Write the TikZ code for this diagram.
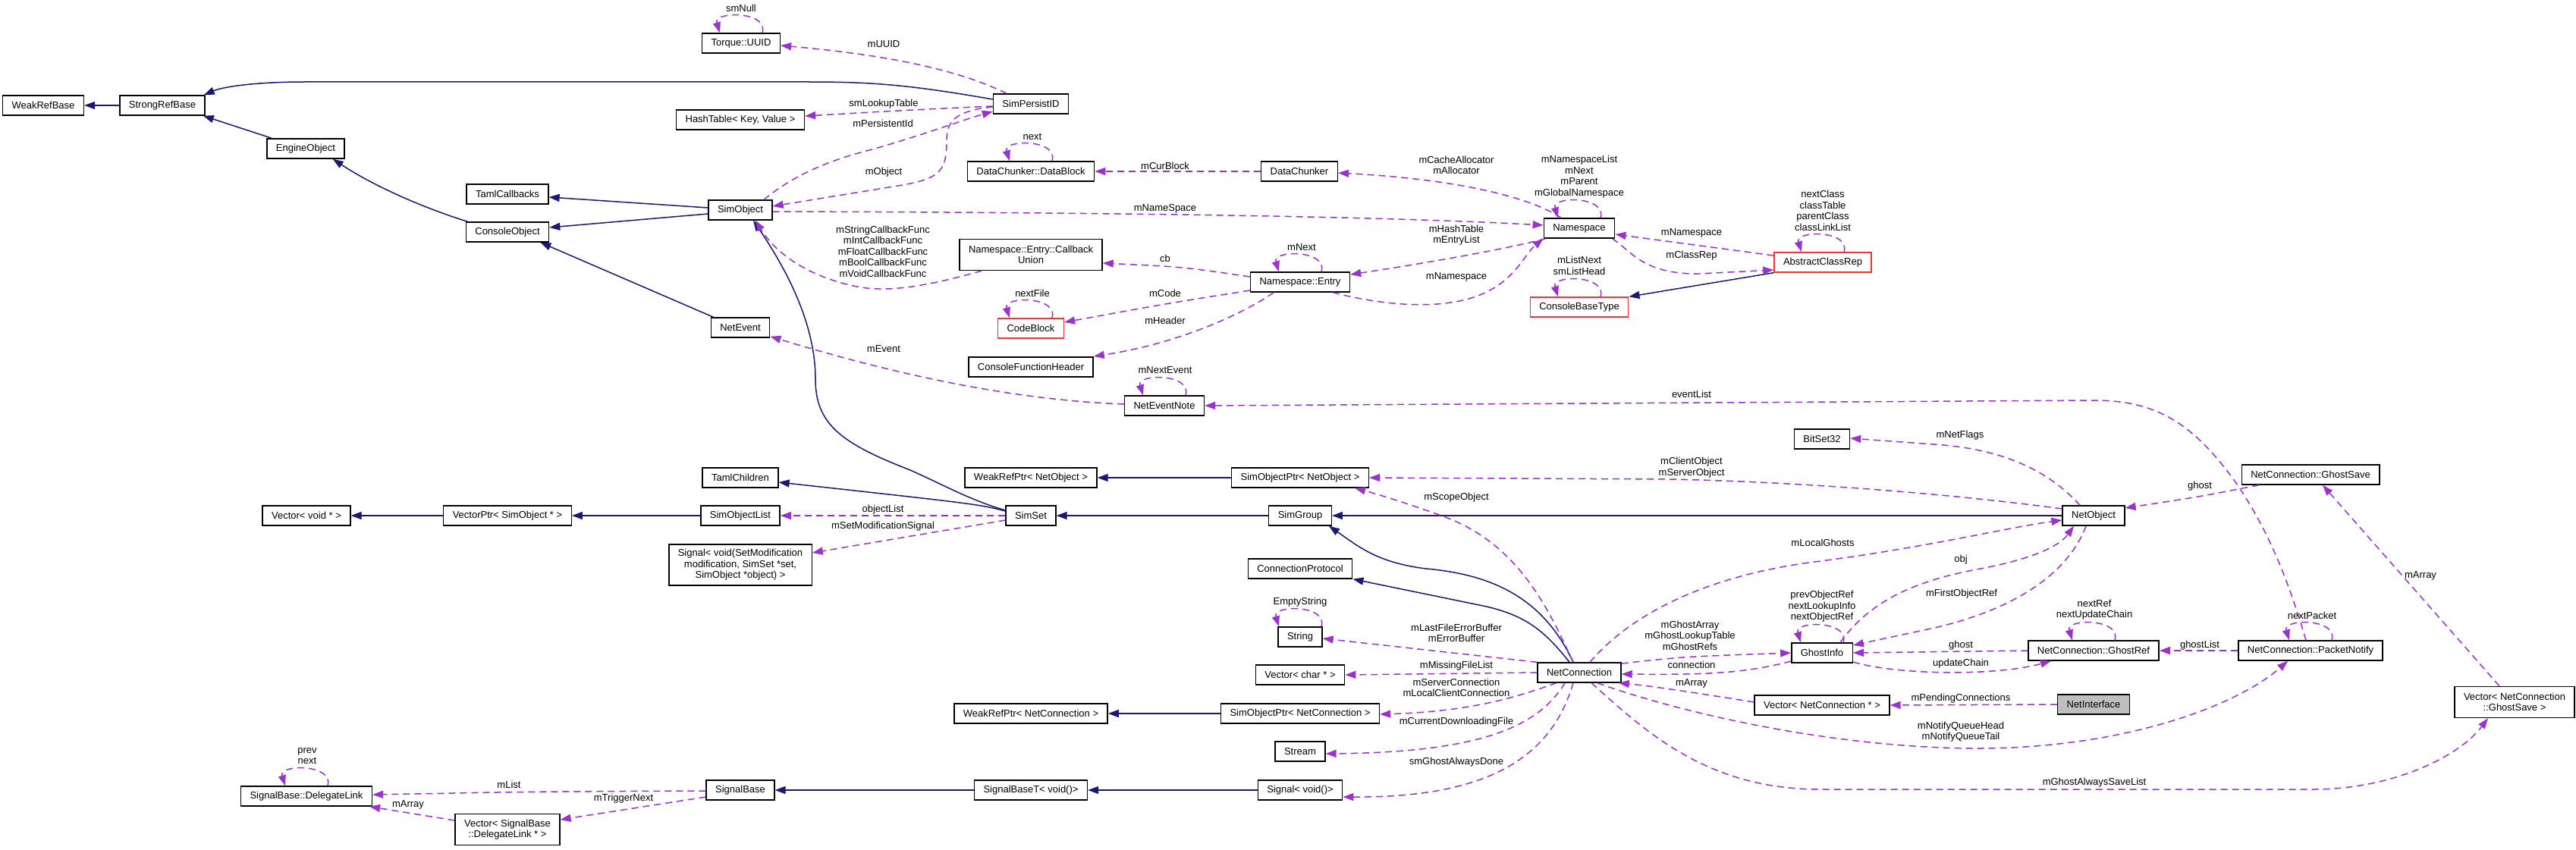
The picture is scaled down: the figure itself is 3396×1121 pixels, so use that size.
\documentclass[tikz,border=0pt]{standalone}
\usepackage{fontspec}
\setmainfont{Liberation Sans}
\usetikzlibrary{arrows.meta}
\definecolor{inhc}{HTML}{191970}
\definecolor{usec}{HTML}{9A32CD}
\definecolor{redb}{HTML}{FF3030}
\definecolor{grayf}{HTML}{BFBFBF}
\newcommand\selfloopx[1]{\draw[usedge] ([xshift=28pt]#1.north) .. controls +(9pt,29pt) and +(-9pt,29pt) .. ([xshift=-28pt]#1.north);}
\begin{document}
\begin{tikzpicture}[x=1pt,y=-1pt,
 every node/.style={font=\fontsize{13pt}{14.5pt}\selectfont},
 cbox/.style={draw=black, line width=1.4pt, fill=white, inner xsep=12pt, inner ysep=2pt, minimum height=26pt, align=center},
 redbox/.style={cbox, draw=redb},
 graybox/.style={cbox, fill=grayf},
 two/.style={minimum height=41pt},
 three/.style={minimum height=54pt},
 inh/.style={draw=inhc, line width=1.5pt, -{Triangle[length=14pt,width=10pt]}},
 usedge/.style={draw=usec, line width=1.5pt, dash pattern=on 9pt off 6pt, -{Triangle[length=14pt,width=10pt]}},
 lbl/.style={align=center, inner sep=0pt}]
\fill[white] (0,0) rectangle (3396,1121);
\useasboundingbox (0,0) rectangle (3396,1121);

% nodes
\node[cbox] (weak) at (57,139) {WeakRefBase};
\node[cbox] (strong) at (214,139) {StrongRefBase};
\node[cbox] (engine) at (403,196) {EngineObject};
\node[cbox] (tamlcb) at (669,256) {TamlCallbacks};
\node[cbox] (cobj) at (669,306) {ConsoleObject};
\node[cbox] (uuid) at (977,57) {Torque::UUID};
\node[cbox] (pid) at (1359,137) {SimPersistID};
\node[cbox] (hasht) at (976,158) {HashTable< Key, Value >};
\node[cbox] (dblock) at (1359,226) {DataChunker::DataBlock};
\node[cbox] (dchunk) at (1713,226) {DataChunker};
\node[cbox] (simobj) at (976,277) {SimObject};
\node[cbox] (ns) at (2082,301) {Namespace};
\node[redbox] (acr) at (2403,346) {AbstractClassRep};
\node[cbox,two] (cbu) at (1359,336) {Namespace::Entry::Callback\\Union};
\node[cbox] (entry) at (1714,372) {Namespace::Entry};
\node[redbox] (cbt) at (2082,405) {ConsoleBaseType};
\node[redbox] (codeb) at (1359,433) {CodeBlock};
\node[cbox] (netev) at (976,432) {NetEvent};
\node[cbox] (cfh) at (1359,484) {ConsoleFunctionHeader};
\node[cbox] (nen) at (1535,535) {NetEventNote};
\node[cbox] (bitset) at (2402,579) {BitSet32};
\node[cbox] (gsave) at (3046,626) {NetConnection::GhostSave};
\node[cbox] (tamlch) at (976,630) {TamlChildren};
\node[cbox] (wrpno) at (1359,630) {WeakRefPtr< NetObject >};
\node[cbox] (sopno) at (1714,630) {SimObjectPtr< NetObject >};
\node[cbox] (vvoid) at (404,680) {Vector< void * >};
\node[cbox] (vptr) at (669,680) {VectorPtr< SimObject * >};
\node[cbox] (sol) at (976,680) {SimObjectList};
\node[cbox] (simset) at (1359,680) {SimSet};
\node[cbox] (simgroup) at (1714,680) {SimGroup};
\node[cbox] (netobj) at (2760,680) {NetObject};
\node[cbox,three] (sigss) at (976,745) {Signal< void(SetModification\\modification, SimSet *set,\\SimObject *object) >};
\node[cbox] (cproto) at (1714,750) {ConnectionProtocol};
\node[cbox] (string) at (1714,840) {String};
\node[cbox] (ginfo) at (2402,861) {GhostInfo};
\node[cbox] (gref) at (2760,858) {NetConnection::GhostRef};
\node[cbox] (pnotify) at (3046,858) {NetConnection::PacketNotify};
\node[cbox] (netconn) at (2082,887) {NetConnection};
\node[cbox] (vchar) at (1714,890) {Vector< char * >};
\node[cbox] (vnc) at (2402,930) {Vector< NetConnection * >};
\node[graybox] (niface) at (2760,929) {NetInterface};
\node[cbox,two] (vgs) at (3315,926) {Vector< NetConnection\\::GhostSave >};
\node[cbox] (wrpnc) at (1359,941) {WeakRefPtr< NetConnection >};
\node[cbox] (sopnc) at (1714,941) {SimObjectPtr< NetConnection >};
\node[cbox] (stream) at (1714,991) {Stream};
\node[cbox] (dlink) at (404,1050) {SignalBase::DelegateLink};
\node[cbox] (sigbase) at (976,1042) {SignalBase};
\node[cbox] (sbt) at (1359,1042) {SignalBaseT< void()>};
\node[cbox] (sigv) at (1714,1042) {Signal< void()>};
\node[cbox,two] (vdl) at (669,1094) {Vector< SignalBase\\::DelegateLink * >};

% inheritance
\draw[inh] (strong.west) -- (weak.east);
\draw[inh] ([xshift=7pt]engine.north west) -- ([xshift=-3pt]strong.south east);
\draw[inh] ([yshift=6pt]pid.west) .. controls (1200,112) and (1150,108) .. (1067,108) -- (401,108) .. controls (340,108) and (295,114) .. ([xshift=-2pt]strong.north east);
\draw[inh] ([xshift=3pt]cobj.north west) .. controls (570,278) and (500,250) .. ([xshift=-16pt]engine.south east);
\draw[inh] ([yshift=3pt]simobj.west) -- ([yshift=-4pt]tamlcb.east);
\draw[inh] ([yshift=-5pt]simobj.west) -- ([yshift=6pt]cobj.east);
\draw[inh] ([xshift=4pt]netev.north west) -- ([xshift=-12pt]cobj.south east);
\draw[inh] ([yshift=7pt]simset.west) .. controls (1280,660) and (1245,640) .. (1200,620) .. controls (1110,585) and (1075,560) .. (1075,500) .. controls (1075,430) and (1040,360) .. ([xshift=17pt]simobj.south);
\draw[inh] ([yshift=6pt]simset.west) .. controls (1290,665) .. ([yshift=-6pt]tamlch.east);
\draw[inh] (sol.west) -- (vptr.east);
\draw[inh] (vptr.west) -- (vvoid.east);
\draw[inh] (simgroup.west) -- (simset.east);
\draw[inh] (netobj.west) -- (simgroup.east);
\draw[inh] ([xshift=-8pt]netconn.north) .. controls (2035,790) and (1970,758) .. (1880,750) .. controls (1815,742) and (1790,720) .. ([xshift=-4pt]simgroup.south east);
\draw[inh] ([xshift=-13pt]netconn.north) .. controls (2035,830) and (2010,812) .. (1960,800) -- (cproto.south east);
\draw[inh] (sopno.west) -- (wrpno.east);
\draw[inh] (sopnc.west) -- (wrpnc.east);
\draw[inh] (sbt.west) -- (sigbase.east);
\draw[inh] (sigv.west) -- (sbt.east);
\draw[inh] (acr.south west) -- (cbt.north east);

% usage
\draw[usedge] ([xshift=-32pt]pid.north) .. controls (1280,100) and (1200,75) .. ([yshift=-3pt]uuid.east);
\draw[usedge] ([yshift=-3pt]pid.west) .. controls (1200,145) .. ([yshift=5pt]hasht.east);
\draw[usedge] ([xshift=31pt]simobj.north) .. controls (1045,232) and (1090,212) .. (1150,197) .. controls (1220,177) and (1270,158) .. ([yshift=-10pt]pid.west);
\draw[usedge] ([yshift=-4pt]pid.west) .. controls (1262,146) and (1248,158) .. (1248,185) .. controls (1248,225) and (1240,235) .. (1190,244) -- ([yshift=5pt]simobj.east);
\draw[usedge] (dchunk.west) -- (dblock.east);
\draw[usedge] ([xshift=-24pt]ns.north) .. controls (2030,268) and (1950,238) .. ([yshift=-2pt]dchunk.east);
\draw[usedge] ([yshift=-2pt]simobj.east) .. controls (1400,280) and (1800,284) .. ([yshift=4pt]ns.west);
\draw[usedge] ([xshift=3pt]ns.south west) .. controls (1980,330) and (1860,350) .. ([yshift=10pt]entry.east);
\draw[usedge] ([xshift=43pt]entry.south) .. controls (1820,402) and (1905,412) .. (1960,385) .. controls (2000,365) and (2010,335) .. (ns.south west);
\draw[usedge] ([yshift=7pt]entry.west) .. controls (1560,352) .. ([yshift=-11pt]cbu.east);
\draw[usedge] ([yshift=-11pt]entry.west) .. controls (1540,400) .. ([yshift=8pt]codeb.east);
\draw[usedge] ([xshift=-35pt]entry.south) .. controls (1645,410) and (1560,452) .. ([yshift=14pt]cfh.east);
\draw[usedge] ([xshift=-65pt]cbu.south) .. controls (1220,378) and (1170,386) .. (1130,378) .. controls (1060,364) and (1020,330) .. ([xshift=20pt]simobj.south);
\draw[usedge] ([yshift=9pt]acr.west) -- ([yshift=-8pt]ns.east);
\draw[usedge] ([xshift=-4pt]ns.south east) .. controls (2150,330) and (2165,362) .. (2240,361) -- ([yshift=-10pt]acr.west);
\draw[usedge] ([yshift=2pt]nen.west) .. controls (1350,528) and (1200,500) .. ([yshift=2pt]netev.south east);
\draw[usedge] ([xshift=-6pt]pnotify.north) .. controls (3015,760) and (2990,700) .. (2950,640) .. controls (2890,555) and (2840,528) .. (2760,528) -- (nen.east);
\draw[usedge] ([xshift=-18pt]netobj.north) .. controls (2700,620) and (2640,592) .. (2550,586) -- ([yshift=1pt]bitset.east);
\draw[usedge] ([yshift=9pt]netobj.west) .. controls (2600,655) and (2400,636) .. (2200,632) -- (sopno.east);
\draw[usedge] ([xshift=-8pt]netconn.north) .. controls (2040,800) and (2000,715) .. (1900,680) .. controls (1850,662) and (1810,650) .. ([xshift=-19pt]sopno.south east);
\draw[usedge] ([xshift=-68pt]gsave.south) .. controls (2900,655) .. ([yshift=10pt]netobj.east);
\draw[usedge] ([xshift=14pt]netconn.north) .. controls (2150,810) and (2250,758) .. (2400,740) .. controls (2550,720) and (2650,695) .. ([yshift=-6pt]netobj.west);
\draw[usedge] ([xshift=24pt]ginfo.north) .. controls (2460,800) and (2510,770) .. (2600,752) .. controls (2680,738) and (2715,720) .. ([xshift=-26pt]netobj.south);
\draw[usedge] ([xshift=-10pt]netobj.south) .. controls (2725,760) and (2650,805) .. (2550,828) -- ([yshift=10pt]ginfo.east);
\draw[usedge] (gref.west) -- (ginfo.east);
\draw[usedge] ([yshift=-12pt]ginfo.east) .. controls (2500,890) and (2630,892) .. ([xshift=-56pt]gref.south);
\draw[usedge] ([yshift=12pt]netconn.east) .. controls (2220,866) .. (ginfo.west);
\draw[usedge] ([yshift=-11pt]ginfo.west) .. controls (2300,888) and (2250,890) .. ([yshift=-2pt]netconn.east);
\draw[usedge] ([yshift=4pt]vnc.west) .. controls (2250,916) and (2180,905) .. ([xshift=-4pt]netconn.south east);
\draw[usedge] (niface.west) -- (vnc.east);
\draw[usedge] ([xshift=24pt]netconn.south) .. controls (2200,935) and (2400,985) .. (2600,987) .. controls (2800,988) and (2950,930) .. ([xshift=-30pt]pnotify.south);
\draw[usedge] ([xshift=16pt]netconn.south) .. controls (2170,965) and (2250,1041) .. (2400,1041) -- (3050,1041) .. controls (3150,1041) and (3240,1000) .. ([xshift=-35pt]vgs.south);
\draw[usedge] ([xshift=-20pt]vgs.north) -- ([xshift=16pt]gsave.south);
\draw[usedge] (pnotify.west) -- (gref.east);
\draw[usedge] (netconn.north west) -- ([yshift=-2pt]string.east);
\draw[usedge] (netconn.west) -- (vchar.east);
\draw[usedge] ([xshift=-30pt]netconn.south) .. controls (2010,915) and (1950,938) .. ([yshift=-1pt]sopnc.east);
\draw[usedge] ([xshift=-19pt]netconn.south) .. controls (2030,955) and (1960,992) .. ([yshift=-3pt]stream.east);
\draw[usedge] ([xshift=-8pt]netconn.south) .. controls (2045,1000) and (1960,1052) .. ([yshift=-9pt]sigv.east);
\draw[usedge] (simset.west) -- (sol.east);
\draw[usedge] ([yshift=-6pt]simset.west) -- ([yshift=16pt]sigss.east);
\draw[usedge] ([yshift=-1pt]sigbase.west) .. controls (700,1044) .. ([yshift=2pt]dlink.east);
\draw[usedge] ([yshift=-9pt]sigbase.west) -- ([yshift=13pt]vdl.east);
\draw[usedge] ([yshift=12pt]vdl.west) -- ([xshift=-4pt]dlink.south east);

% self loops
\selfloopx{uuid}
\selfloopx{dblock}
\selfloopx{ns}
\selfloopx{entry}
\selfloopx{codeb}
\selfloopx{acr}
\selfloopx{cbt}
\selfloopx{nen}
\selfloopx{string}
\selfloopx{ginfo}
\selfloopx{gref}
\selfloopx{pnotify}
\selfloopx{dlink}

% labels
\node[lbl] (l1) at (977,11) {smNull};
\node[lbl] (l2) at (1165,58) {mUUID};
\node[lbl] (l3) at (1165,137) {smLookupTable};
\node[lbl] (l4) at (1164,163) {mPersistentId};
\node[lbl] (l5) at (1361,180) {next};
\node[lbl] (l6) at (1536,219) {mCurBlock};
\node[lbl] (l7) at (1165,227) {mObject};
\node[lbl] (l8) at (1536,275) {mNameSpace};
\node[lbl] (l9) at (1920,218) {mCacheAllocator\\mAllocator};
\node[lbl] (l10) at (2082,233) {mNamespaceList\\mNext\\mParent\\mGlobalNamespace};
\node[lbl] (l11) at (2403,278) {nextClass\\classTable\\parentClass\\classLinkList};
\node[lbl] (l12) at (1920,310) {mHashTable\\mEntryList};
\node[lbl] (l13) at (2230,307) {mNamespace};
\node[lbl] (l14) at (1716,326) {mNext};
\node[lbl] (l15) at (2230,337) {mClassRep};
\node[lbl] (l16) at (1536,341) {cb};
\node[lbl] (l17) at (1920,365) {mNamespace};
\node[lbl] (l18) at (2082,350.5) {mListNext\\smListHead};
\node[lbl] (l19) at (1164,331.5) {mStringCallbackFunc\\mIntCallbackFunc\\mFloatCallbackFunc\\mBoolCallbackFunc\\mVoidCallbackFunc};
\node[lbl] (l20) at (1361,387) {nextFile};
\node[lbl] (l21) at (1536,387) {mCode};
\node[lbl] (l22) at (1536,423) {mHeader};
\node[lbl] (l23) at (1165,460) {mEvent};
\node[lbl] (l24) at (1536,488) {mNextEvent};
\node[lbl] (l25) at (2230,520) {eventList};
\node[lbl] (l26) at (2584,574) {mNetFlags};
\node[lbl] (l27) at (2230,616.5) {mClientObject\\mServerObject};
\node[lbl] (l28) at (2900,641) {ghost};
\node[lbl] (l29) at (1920,656) {mScopeObject};
\node[lbl] (l30) at (1164,672) {objectList};
\node[lbl] (l31) at (1164,694) {mSetModificationSignal};
\node[lbl] (l32) at (2403,716) {mLocalGhosts};
\node[lbl] (l33) at (2585,738) {obj};
\node[lbl] (l34) at (3191,759) {mArray};
\node[lbl] (l35) at (2586,783) {mFirstObjectRef};
\node[lbl] (l36) at (1714,794) {EmptyString};
\node[lbl] (l37) at (2402,800) {prevObjectRef\\nextLookupInfo\\nextObjectRef};
\node[lbl] (l38) at (2761,804) {nextRef\\nextUpdateChain};
\node[lbl] (l39) at (3048,812) {nextPacket};
\node[lbl] (l40) at (2228,838) {mGhostArray\\mGhostLookupTable\\mGhostRefs};
\node[lbl] (l41) at (1920,835) {mLastFileErrorBuffer\\mErrorBuffer};
\node[lbl] (l42) at (2585,851) {ghost};
\node[lbl] (l43) at (2900,851) {ghostList};
\node[lbl] (l44) at (2585,875) {updateChain};
\node[lbl] (l45) at (2230,877) {connection};
\node[lbl] (l46) at (1920,878) {mMissingFileList};
\node[lbl] (l47) at (2230,901) {mArray};
\node[lbl] (l48) at (1920,907) {mServerConnection\\mLocalClientConnection};
\node[lbl] (l49) at (2585,921) {mPendingConnections};
\node[lbl] (l50) at (1920,952) {mCurrentDownloadingFile};
\node[lbl] (l51) at (2585,965) {mNotifyQueueHead\\mNotifyQueueTail};
\node[lbl] (l52) at (1920,1005) {smGhostAlwaysDone};
\node[lbl] (l53) at (2761,1032) {mGhostAlwaysSaveList};
\node[lbl] (l54) at (405,997) {prev\\next};
\node[lbl] (l55) at (671,1035) {mList};
\node[lbl] (l56) at (822,1053) {mTriggerNext};
\node[lbl] (l57) at (538,1061) {mArray};
\end{tikzpicture}
\end{document}
